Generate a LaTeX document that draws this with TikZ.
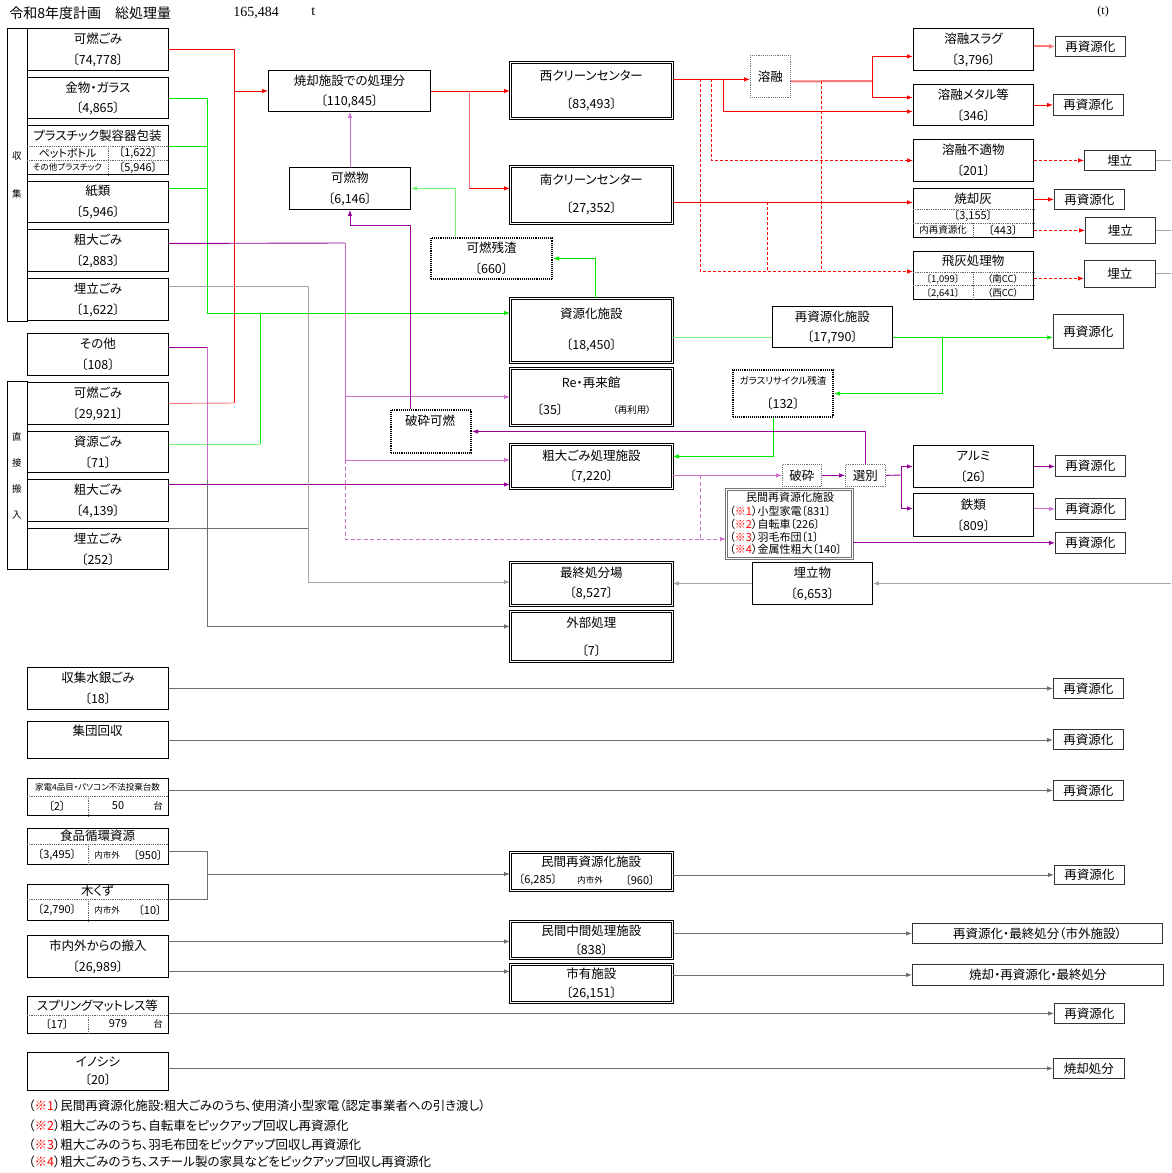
\documentclass[tikz,border=0pt]{standalone}
\usepackage{fontspec}
\setmainfont{Noto Sans CJK JP}[RawFeature={+palt}]
\newfontfamily\serif{Liberation Serif}
\usetikzlibrary{arrows.meta}
\definecolor{cRed}{RGB}{255,0,0}
\definecolor{cPink}{RGB}{255,120,120}
\definecolor{cGrn}{RGB}{0,235,0}
\definecolor{cLtGrn}{RGB}{120,245,120}
\definecolor{cPur}{RGB}{150,0,150}
\definecolor{cLtPur}{RGB}{205,110,205}
\definecolor{cGray}{RGB}{165,165,165}
\definecolor{cDkGray}{RGB}{110,110,110}
\newcommand\fL{\fontsize{12.5}{21}\selectfont}
\newcommand\fM{\fontsize{11}{13}\selectfont}
\newcommand\fS{\fontsize{9.5}{11}\selectfont}
\newcommand\fXS{\fontsize{8.5}{10}\selectfont}
\newcommand\kome[1]{（\textcolor{red}{※#1}）}

\begin{document}
\begin{tikzpicture}[x=1pt,y=-1pt,line width=.9pt,
  every node/.style={font=\fL,inner sep=0pt},
  >={Latex[length=6pt,width=4.5pt]},
  box/.style={draw,line width=.9pt,anchor=north west,align=center},
  wh/.style 2 args={minimum width=#1pt,minimum height=#2pt},
  fac/.style={box,double,double distance=1.1pt,line width=.8pt},
  dotbox/.style={box,densely dotted,line width=2pt},
  gbox/.style={box,draw=black!55,densely dotted,line width=.8pt},
  mbox/.style={box,draw=black!55,double,double distance=1pt,line width=1pt},
  rbox/.style={box,line width=.8pt,draw=black!80},
  rowl/.style={densely dotted,line width=.8pt,draw=black!60},
  redln/.style={draw=cRed},
  pinkln/.style={draw=cPink},
  reddash/.style={draw=cRed,dashed,dash pattern=on 3pt off 2pt,line width=.7pt},
  grnln/.style={draw=cGrn},
  ltgrnln/.style={draw=cLtGrn},
  purln/.style={draw=cPur},
  ltpurln/.style={draw=cLtPur},
  purdash/.style={draw=cLtPur,dash pattern=on 4pt off 2.5pt},
  grayln/.style={draw=cGray},
  dkln/.style={draw=cDkGray,line width=.8pt}]
  \fill[white] (0,0) rectangle (1171,1173);
  \path[use as bounding box] (0,0) rectangle (1171,1173);

  % header
  \node[anchor=west,font=\fontsize{14}{14}\selectfont] (title) at (9,13) {令和8年度計画　総処理量};
  \node[anchor=west,font=\serif\fontsize{14}{14}\selectfont] (total) at (233,13) {165,484};
  \node[anchor=west,font=\serif\fontsize{14}{14}\selectfont] (unit) at (311,12) {t};
  \node[anchor=west,font=\serif\fontsize{12}{12}\selectfont] (unitR) at (1097,12) {(t)};

  % brackets
  \node[box,line width=.8pt,wh={20}{293}] (shushu) at (7,28) {};
  \node[font=\fS] (shu1) at (17,156) {収};
  \node[font=\fS] (shu2) at (17,194) {集};
  \node[box,line width=.8pt,wh={20}{188}] (chokusetsu) at (7,381) {};
  \node[font=\fS] (cho1) at (17,437) {直};
  \node[font=\fS] (cho2) at (17,463) {接};
  \node[font=\fS] (cho3) at (17,489) {搬};
  \node[font=\fS] (cho4) at (17,515) {入};

  % sources
  \node[box,wh={141}{42}] (kanen1) at (27,28) {可燃ごみ\\〔74,778〕};
  \node[box,wh={141}{41}] (kinbutsu) at (27,77) {金物・ガラス\\[-1pt]〔4,865〕};
  \node[box,wh={141}{49}] (pura) at (27,125) {};
  \draw[rowl] ([yshift=-21pt]pura.north west) -- ([yshift=-21pt]pura.north east);
  \draw[rowl] ([yshift=-35pt]pura.north west) -- ([yshift=-35pt]pura.north east);
  \draw[rowl] ([xshift=81pt,yshift=-21pt]pura.north west) -- ([xshift=81pt]pura.south west);
  \node (pura1) at (97.5,136) {プラスチック製容器包装};
  \node[font=\fM] (pura2) at (67.5,153) {ペットボトル};
  \node[font=\fM] (pura3) at (138,153) {〔1,622〕};
  \node[font=\fXS] (pura4) at (67.5,167.5) {その他プラスチック};
  \node[font=\fM] (pura5) at (138,167.5) {〔5,946〕};
  \node[box,wh={141}{41}] (shirui) at (27,181) {紙類\\〔5,946〕};
  \node[box,wh={141}{42}] (sodai1) at (27,229) {粗大ごみ\\〔2,883〕};
  \node[box,wh={141}{42}] (umetate1) at (27,278) {埋立ごみ\\〔1,622〕};
  \node[box,wh={141}{42}] (sonota) at (27,333) {その他\\〔108〕};
  \node[box,wh={141}{42}] (kanen2) at (27,382) {可燃ごみ\\〔29,921〕};
  \node[box,wh={141}{41}] (shigen2) at (27,431) {資源ごみ\\〔71〕};
  \node[box,wh={141}{42}] (sodai2) at (27,479) {粗大ごみ\\〔4,139〕};
  \node[box,wh={141}{41}] (umetate2) at (27,528) {埋立ごみ\\〔252〕};

  \node[box,wh={141}{42}] (suigin) at (27,667) {収集水銀ごみ\\〔18〕};
  \node[box,wh={141}{37}] (shudan) at (27,721) {};
  \node (shudan1) at (97.5,731) {集団回収};
  \node[box,wh={141}{37}] (kaden) at (27,778) {};
  \draw[rowl] ([yshift=-18pt]kaden.north west) -- ([yshift=-18pt]kaden.north east);
  \draw[rowl] ([xshift=61pt,yshift=-18pt]kaden.north west) -- ([xshift=61pt]kaden.south west);
  \node[font=\fXS] (kaden1) at (97.5,787) {家電4品目・パソコン不法投棄台数};
  \node[font=\fM] (kaden2) at (57,806) {〔2〕};
  \node[font=\fM] (kaden3) at (118,806) {50};
  \node[font=\fS] (kaden4) at (158,806) {台};
  \node[box,wh={141}{36}] (shokuhin) at (27,828) {};
  \draw[rowl] ([yshift=-16pt]shokuhin.north west) -- ([yshift=-16pt]shokuhin.north east);
  \draw[rowl] ([xshift=61pt,yshift=-16pt]shokuhin.north west) -- ([xshift=61pt]shokuhin.south west);
  \node (shoku1) at (97.5,836) {食品循環資源};
  \node[font=\fM] (shoku2) at (57,855) {〔3,495〕};
  \node[font=\fXS] (shoku3) at (107,855) {内市外};
  \node[font=\fM] (shoku4) at (148,855) {〔950〕};
  \node[box,wh={141}{36}] (mokuzu) at (27,884) {};
  \draw[rowl] ([yshift=-15pt]mokuzu.north west) -- ([yshift=-15pt]mokuzu.north east);
  \draw[rowl] ([xshift=61pt,yshift=-15pt]mokuzu.north west) -- ([xshift=61pt]mokuzu.south west);
  \node (moku1) at (97.5,891) {木くず};
  \node[font=\fM] (moku2) at (57,910) {〔2,790〕};
  \node[font=\fXS] (moku3) at (107,910) {内市外};
  \node[font=\fM] (moku4) at (150,910) {〔10〕};
  \node[box,wh={141}{42}] (shinai) at (27,935) {市内外からの搬入\\〔26,989〕};
  \node[box,wh={141}{37}] (spring) at (27,996) {};
  \draw[rowl] ([yshift=-19pt]spring.north west) -- ([yshift=-19pt]spring.north east);
  \draw[rowl] ([xshift=61pt,yshift=-19pt]spring.north west) -- ([xshift=61pt]spring.south west);
  \node (spr1) at (97.5,1006) {スプリングマットレス等};
  \node[font=\fM] (spr2) at (57,1024) {〔17〕};
  \node[font=\fM] (spr3) at (118,1024) {979};
  \node[font=\fS] (spr4) at (158,1024) {台};
  \node[box,wh={141}{38}] (inoshishi) at (27,1052) {イノシシ\\[-3pt]〔20〕};

  % middle
  \node[box,wh={162}{41}] (shokyaku) at (268,70) {焼却施設での処理分\\[-1pt]〔110,845〕};
  \node[box,wh={121}{42}] (kanenbutsu) at (289,167) {可燃物\\〔6,146〕};
  \node[dotbox,wh={121}{41}] (zansa) at (430,237) {可燃残渣\\〔660〕};
  \node[dotbox,wh={80}{43}] (hasaiKanen) at (390,409) {};
  \node (hasaiKanen1) at (430,421) {破砕可燃};

  % facilities
  \node[fac,wh={162}{56}] (nishi) at (510,62) {西クリーンセンター\\[7pt]〔83,493〕};
  \node[fac,wh={162}{57}] (minami) at (510,166) {南クリーンセンター\\[7pt]〔27,352〕};
  \node[fac,wh={162}{64}] (shigenka) at (510,298) {資源化施設\\[10pt]〔18,450〕};
  \node[fac,wh={162}{57}] (rekurai) at (510,368) {};
  \node (rekurai1) at (591,383) {Re・再来館};
  \node (rekurai2) at (550,410) {〔35〕};
  \node[font=\fS] (rekurai3) at (632,410) {（再利用）};
  \node[fac,wh={162}{44}] (sodaiShisetsu) at (510,444) {粗大ごみ処理施設\\[-1pt]〔7,220〕};
  \node[fac,wh={162}{43}] (saishu) at (510,562) {最終処分場\\[-1pt]〔8,527〕};
  \node[fac,wh={162}{50}] (gaibu) at (510,611) {外部処理\\[7pt]〔7〕};
  \node[fac,wh={162}{38}] (minkanL) at (510,852) {};
  \node (minkanL1) at (591,862) {民間再資源化施設};
  \node[font=\fM] (minkanL2) at (538,880) {〔6,285〕};
  \node[font=\fXS] (minkanL3) at (590,880) {内市外};
  \node[font=\fM] (minkanL4) at (640,880) {〔960〕};
  \node[fac,wh={162}{37}] (chukan) at (510,921) {民間中間処理施設\\[-2pt]〔838〕};
  \node[fac,wh={162}{38}] (shiyu) at (510,964) {市有施設\\[-2pt]〔26,151〕};

  % right side
  \node[gbox,wh={40}{42}] (yoyu) at (750,55) {溶融};
  \node[box,wh={120}{42}] (slag) at (913,28) {溶融スラグ\\〔3,796〕};
  \node[box,wh={120}{41}] (metal) at (913,84) {溶融メタル等\\〔346〕};
  \node[box,wh={120}{42}] (futeki) at (913,139) {溶融不適物\\〔201〕};
  \node[box,wh={120}{49}] (shokyakubai) at (913,188) {};
  \draw[rowl] ([yshift=-21pt]shokyakubai.north west) -- ([yshift=-21pt]shokyakubai.north east);
  \draw[rowl] ([yshift=-35pt]shokyakubai.north west) -- ([yshift=-35pt]shokyakubai.north east);
  \draw[rowl] ([xshift=60pt,yshift=-35pt]shokyakubai.north west) -- ([xshift=60pt]shokyakubai.south west);
  \node (bai1) at (973,199) {焼却灰};
  \node[font=\fM] (bai2) at (973,216) {〔3,155〕};
  \node[font=\fS] (bai3) at (943,230) {内再資源化};
  \node[font=\fM] (bai4) at (1003,230) {〔443〕};
  \node[box,wh={120}{48}] (hibai) at (913,251) {};
  \draw[rowl] ([yshift=-21pt]hibai.north west) -- ([yshift=-21pt]hibai.north east);
  \draw[rowl] ([yshift=-34pt]hibai.north west) -- ([yshift=-34pt]hibai.north east);
  \draw[rowl] ([xshift=60pt,yshift=-21pt]hibai.north west) -- ([xshift=60pt]hibai.south west);
  \node (hibai1) at (973,261) {飛灰処理物};
  \node[font=\fS] (hibai2) at (943,279) {〔1,099〕};
  \node[font=\fS] (hibai3) at (1003,279) {（南CC）};
  \node[font=\fS] (hibai4) at (943,293) {〔2,641〕};
  \node[font=\fS] (hibai5) at (1003,293) {（西CC）};

  \node[rbox,wh={70}{20}] (saiA) at (1055,36) {再資源化};
  \node[rbox,wh={70}{21}] (saiB) at (1053,94) {再資源化};
  \node[rbox,wh={71}{20}] (umeA) at (1084,150) {埋立};
  \node[rbox,wh={70}{20}] (saiC) at (1054,189) {再資源化};
  \node[rbox,wh={70}{26}] (umeB) at (1085,217) {埋立};
  \node[rbox,wh={71}{27}] (umeC) at (1084,260) {埋立};

  \node[box,wh={120}{41}] (saiShisetsu) at (772,306) {再資源化施設\\[-1pt]〔17,790〕};
  \node[rbox,wh={70}{34}] (saiD) at (1053,314) {再資源化};
  \node[dotbox,wh={100}{47}] (glass) at (732,369) {{\fS ガラスリサイクル残渣}\\[3pt]〔132〕};
  \node[gbox,wh={39}{22}] (hasai) at (782,464) {破砕};
  \node[gbox,wh={40}{22}] (senbetsu) at (845,464) {選別};
  \node[box,wh={120}{42}] (arumi) at (913,445) {アルミ\\〔26〕};
  \node[box,wh={120}{43}] (tetsu) at (913,493) {鉄類\\〔809〕};
  \node[rbox,wh={70}{21}] (saiE) at (1055,455) {再資源化};
  \node[rbox,wh={70}{21}] (saiF) at (1055,498) {再資源化};
  \node[mbox,wh={126}{69}] (minkanR) at (726,489) {};
  \node[font=\fM] (mr0) at (790,497) {民間再資源化施設};
  \node[font=\fM,anchor=west] (mr1) at (729,511) {\kome{1}小型家電〔831〕};
  \node[font=\fM,anchor=west] (mr2) at (729,524) {\kome{2}自転車〔226〕};
  \node[font=\fM,anchor=west] (mr3) at (729,537) {\kome{3}羽毛布団〔1〕};
  \node[font=\fM,anchor=west] (mr4) at (729,549) {\kome{4}金属性粗大〔140〕};
  \node[rbox,wh={70}{21}] (saiG) at (1055,532) {再資源化};
  \node[box,wh={120}{42}] (umetatebutsu) at (752,562) {埋立物\\〔6,653〕};

  \node[rbox,wh={70}{20}] (saiH) at (1053,678) {再資源化};
  \node[rbox,wh={70}{20}] (saiI) at (1053,729) {再資源化};
  \node[rbox,wh={70}{20}] (saiJ) at (1053,780) {再資源化};
  \node[rbox,wh={70}{19}] (saiM) at (1054,865) {再資源化};
  \node[rbox,wh={250}{20}] (kekka1) at (912,923) {再資源化・最終処分（市外施設）};
  \node[rbox,wh={251}{21}] (kekka2) at (912,964) {焼却・再資源化・最終処分};
  \node[rbox,wh={70}{20}] (saiK) at (1054,1003) {再資源化};
  \node[rbox,wh={71}{20}] (shobun) at (1053,1058) {焼却処分};

  % junctions
  \coordinate (rJ) at (234,91);
  \coordinate (rB) at (234,403);
  \coordinate (rS) at (469,91);
  \coordinate (sIn) at ([yshift=6.5pt]minami.west);
  \coordinate (nO) at ([yshift=11pt]nishi.east);
  \coordinate (mJ) at (723,79);
  \coordinate (yO) at ([yshift=-5pt]yoyu.east);
  \coordinate (yJ) at (872,81);
  \coordinate (dA) at (711,79);
  \coordinate (dB) at (700,79);
  \coordinate (dC) at (821,81);
  \coordinate (dD) at (767,202);
  \coordinate (hIn) at ([yshift=4pt]hibai.west);
  \coordinate (mO) at ([yshift=-7.5pt]minami.east);
  \coordinate (uC) at ([yshift=-4.5pt]umeC.west);
  \coordinate (rim) at (1171,0);
  \coordinate (gB) at (207,313);
  \coordinate (gB2) at (260,313);
  \coordinate (gS) at ([yshift=-10.5pt]saiShisetsu.west);
  \coordinate (gJ) at (942,337);
  \coordinate (pT) at (345,243);
  \coordinate (pM) at (345,460);
  \coordinate (pL) at (345,539);
  \coordinate (pR) at (700,539);
  \coordinate (pQ) at (700,475);
  \coordinate (oJ) at (207,480);
  \coordinate (sJ) at (901,475);
  \coordinate (yB) at (308,582);
  \coordinate (fJ) at (207,874);

  % red: incineration
  \draw[redln] (kanen1.east) -| (rB);
  \draw[pinkln] (kanen2.east) -- (rB);
  \draw[redln,->] (rJ) -- (rJ -| shokyaku.west);
  \draw[redln,->] (shokyaku.east) -- (shokyaku.east -| nishi.west);
  \draw[pinkln] (rS) -- (rS |- sIn);
  \draw[redln,->] (rS |- sIn) -- (sIn);
  \draw[redln,->] (nO) -- (nO -| yoyu.west);
  \draw[redln,->] (mJ) |- ([yshift=-6.5pt]metal.west);
  \draw[pinkln,line width=2pt] (yO) -- (yJ);
  \draw[redln,->] (yJ) |- ([yshift=-7pt]slag.west);
  \draw[redln,->] (yJ) |- ([yshift=7.5pt]metal.west);
  \draw[reddash,->] (dA) |- (futeki.west);
  \draw[reddash,->] (dB) |- (hIn);
  \draw[reddash] (dC) -- (dC |- hIn);
  \draw[reddash] (dD) -- (dD |- hIn);
  \draw[redln,->] (mO) -- (mO -| shokyakubai.west);
  \draw[pinkln,line width=2pt,-{Latex[length=6pt,width=5pt,fill=cRed]}] (saiA.west -| slag.east) -- (saiA.west);
  \draw[redln,->] (metal.east) -- (metal.east -| saiB.west);
  \draw[reddash,->] (futeki.east) -- (futeki.east -| umeA.west);
  \draw[redln,->] (saiC.west -| shokyakubai.east) -- (saiC.west);
  \draw[reddash,->] (umeB.west -| shokyakubai.east) -- (umeB.west);
  \draw[reddash,->] (uC -| hibai.east) -- (uC);
  \draw[grayln] (umeA.east) -- (umeA.east -| rim);
  \draw[grayln] (umeB.east) -- (umeB.east -| rim);
  \draw[grayln] (umeC.east) -- (umeC.east -| rim);

  % green: resources
  \draw[grnln] (kinbutsu.east) -| (gB);
  \draw[grnln] ([yshift=-21pt]pura.north east) -- ([yshift=-21pt]pura.north east -| gB);
  \draw[grnln] ([yshift=13.5pt]shirui.east) -- ([yshift=13.5pt]shirui.east -| gB);
  \draw[grnln,->] (gB) -- (gB -| shigenka.west);
  \draw[ltgrnln] ([yshift=8pt]shigen2.east) -- ([yshift=8pt]shigen2.east -| gB2);
  \draw[grnln] ([yshift=8pt]shigen2.east -| gB2) -- (gB2);
  \draw[grnln,->] ([xshift=4pt]shigenka.north) |- (zansa.east);
  \draw[ltgrnln,->] ([xshift=-36.5pt]zansa.north) |- (kanenbutsu.east);
  \draw[ltgrnln] (gS -| shigenka.east) -- (gS);
  \draw[grnln,->] (gS -| saiShisetsu.east) -- (gS -| saiD.west);
  \draw[grnln,->] (gJ) |- (glass.east);
  \draw[grnln,->] ([xshift=-10pt]glass.south) |- ([yshift=10pt]sodaiShisetsu.east);

  % purple: bulky waste
  \draw[purln] ([yshift=7pt]sodai1.east) -- (pT);
  \draw[ltpurln] (pT) -- (pM);
  \draw[ltpurln,->] (pT |- rekurai.west) -- (rekurai.west);
  \draw[ltpurln,->] (pM) -- (pM -| sodaiShisetsu.west);
  \draw[purdash] (pM) -- (pL) -- (pR);
  \draw[purdash] (pQ) -- (pR);
  \draw[purdash,->] (pR) -- (pR -| minkanR.west);
  \draw[purln,->] ([yshift=16pt]sodai2.east) -- ([yshift=16pt]sodai2.east -| sodaiShisetsu.west);
  \draw[purln] ([yshift=7pt]sonota.east) -- ([yshift=7pt]sonota.east -| oJ);
  \draw[ltpurln] ([yshift=7pt]sonota.east -| oJ) -- (oJ);
  \draw[dkln,->] (oJ) |- ([yshift=10pt]gaibu.west);
  \draw[ltpurln,->] (kanenbutsu.north) -- (kanenbutsu.north |- shokyaku.south);
  \draw[purln,->] ([xshift=-21pt]hasaiKanen.north) |- ([yshift=-16pt]kanenbutsu.south) -- (kanenbutsu.south);
  \draw[ltpurln,->] (hasai.west -| sodaiShisetsu.east) -- (hasai.west);
  \draw[purln,->] (hasai.east) -- (senbetsu.west);
  \draw[purln] (senbetsu.east) -- (sJ);
  \draw[purln,->] (sJ) |- (arumi.west);
  \draw[purln,->] (sJ) |- ([yshift=6.5pt]tetsu.west);
  \draw[purln,->] (senbetsu.north) |- (hasaiKanen.east);
  \draw[purln,->] (arumi.east) -- (arumi.east -| saiE.west);
  \draw[ltpurln,->] (saiF.west -| tetsu.east) -- (saiF.west);
  \draw[purln,->] (saiG.west -| minkanR.east) -- (saiG.west);

  % gray: landfill
  \draw[grayln] ([yshift=13pt]umetate1.east) -| (yB);
  \draw[dkln] (umetate2.north east) -- (umetate2.north east -| yB);
  \draw[grayln,->] (yB) -- (yB -| saishu.west);
  \draw[grayln,->] (umetatebutsu.west) -- (umetatebutsu.west -| saishu.east);
  \draw[grayln,->] (rim |- umetatebutsu.east) -- (umetatebutsu.east);

  % others
  \draw[dkln,->] (suigin.east) -- (suigin.east -| saiH.west);
  \draw[dkln,->] (shudan.east) -- (shudan.east -| saiI.west);
  \draw[dkln,->] (saiJ.west -| kaden.east) -- (saiJ.west);
  \draw[dkln] ([yshift=-5pt]shokuhin.east) -| ([yshift=3pt]mokuzu.east -| fJ) -- ([yshift=3pt]mokuzu.east);
  \draw[dkln,->] (fJ) -- (fJ -| minkanL.west);
  \draw[dkln,->] (saiM.west -| minkanL.east) -- (saiM.west);
  \draw[dkln,->] ([yshift=15pt]shinai.east) -- ([yshift=15pt]shinai.east -| chukan.west);
  \draw[dkln,->] ([yshift=-15pt]shinai.east) -- ([yshift=-15pt]shinai.east -| shiyu.west);
  \draw[dkln,->] (kekka1.west -| chukan.east) -- (kekka1.west);
  \draw[dkln,->] (kekka2.west -| shiyu.east) -- (kekka2.west);
  \draw[dkln,->] (saiK.west -| spring.east) -- (saiK.west);
  \draw[dkln,->] (shobun.west -| inoshishi.east) -- (shobun.west);

  % notes
  \node[anchor=west] (note1) at (28,1106) {\kome{1}民間再資源化施設:粗大ごみのうち、使用済小型家電（認定事業者への引き渡し）};
  \node[anchor=west] (note2) at (28,1126) {\kome{2}粗大ごみのうち、自転車をピックアップ回収し再資源化};
  \node[anchor=west] (note3) at (28,1145) {\kome{3}粗大ごみのうち、羽毛布団をピックアップ回収し再資源化};
  \node[anchor=west] (note4) at (28,1162) {\kome{4}粗大ごみのうち、スチール製の家具などをピックアップ回収し再資源化};
\end{tikzpicture}
\end{document}
